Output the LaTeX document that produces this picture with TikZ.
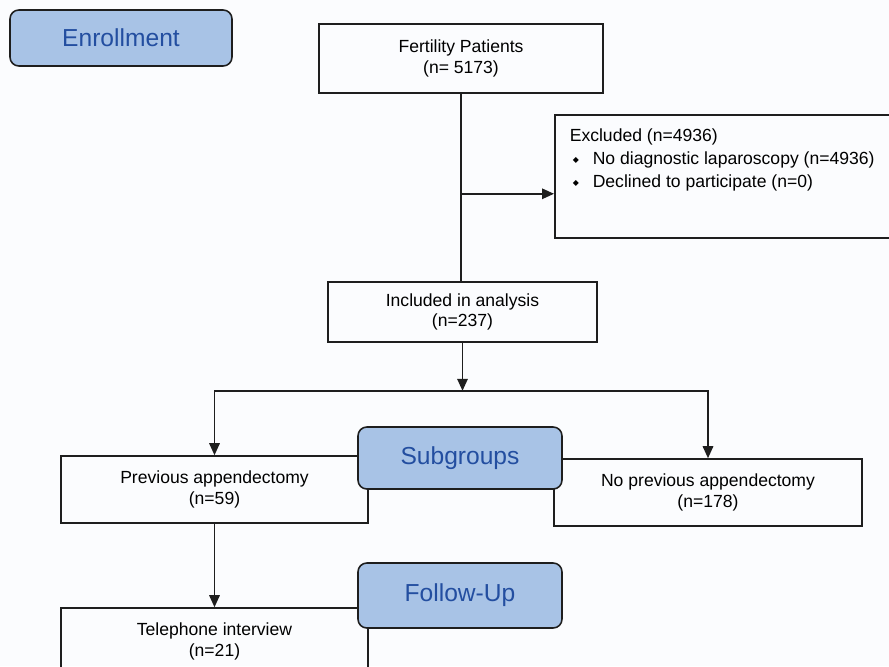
\documentclass[tikz,border=0pt]{standalone}
\usepackage{fontspec}
\setmainfont{Liberation Sans}
\newfontfamily\symfont{DejaVu Sans}
\usetikzlibrary{arrows.meta, positioning, calc}
\definecolor{stagefill}{RGB}{168, 195, 230}
\definecolor{stagetext}{RGB}{35, 78, 160}
\definecolor{flowline}{RGB}{30, 30, 30}
\definecolor{pagebg}{RGB}{251, 252, 254}
\newcommand{\exitem}[1]{\makebox[0.46cm][l]{\hspace{0.06cm}\raisebox{0.8pt}{\symfont\fontsize{4.5}{5}\selectfont ◆}}#1}
\tikzset{
  sbox/.style={
    rectangle, rounded corners=5pt,
    draw=flowline, fill=stagefill, text=stagetext,
    font=\fontsize{14}{17}\selectfont, line width=0.9pt,
    minimum width=4.08cm, minimum height=1.24cm
  },
  cbox/.style={
    rectangle, draw=flowline, align=center,
    font=\fontsize{10}{11.5}\selectfont, line width=0.9pt, inner sep=2pt
  },
  arr/.style={-{Triangle[length=2.4mm, width=2.1mm]}, line width=0.9pt, color=flowline},
  flow/.style={line width=0.9pt, color=flowline},
}

\begin{document}
\begin{tikzpicture}[x=0.02cm, y=-0.02cm]
    \useasboundingbox (0,0) rectangle (889,666);
    \clip (0,0) rectangle (889,666);
    \fill[pagebg] (0,0) rectangle (889,666);

    \node[sbox, minimum width=4.44cm, minimum height=1.12cm] (enroll) at (121,38) {Enrollment};
    \node[cbox, minimum width=5.68cm, minimum height=1.38cm] (fert) at (461,58.5) {Fertility Patients\\(n= 5173)};
    \node[cbox, anchor=north west, minimum width=7cm, minimum height=2.46cm,
          inner xsep=0.26cm, inner ysep=0.14cm] (excl) at (554,114)
      {\parbox[t][2.18cm][t]{6.4cm}{\vspace*{4pt}\fontsize{10}{13}\selectfont Excluded (n=4936)\\
        \exitem{No diagnostic laparoscopy (n=4936)}\\
        \exitem{Declined to participate (n=0)}}};
    \node[cbox, minimum width=5.38cm, minimum height=1.2cm] (incl) at (462.5,312) {Included in analysis\\(n=237)};

    \node[cbox, minimum width=6.14cm, minimum height=1.34cm] (prev)   at (214.5,489.5) {Previous appendectomy\\(n=59)};
    \node[cbox, minimum width=6.16cm, minimum height=1.34cm] (noprev) at (708,492.5)   {No previous appendectomy\\(n=178)};
    \node[cbox, minimum width=6.14cm, minimum height=1.34cm] (tel)    at (214.5,641.5) {Telephone interview\\(n=21)};

    \node[sbox] (subgr) at (460,458) {Subgroups};
    \node[sbox, minimum height=1.3cm] (follow) at (460,595.5) {Follow-Up};

    \path (fert.south) ++(0,100) coordinate (split);
    \path (incl.south) ++(0,48) coordinate (fork);

    \draw[flow] (fert.south) -- (fert.south |- incl.north);
    \draw[arr] (split) -- (split -| excl.west);
    \draw[arr] (incl.south) -- (fork);
    \draw[arr] (fork) -| (prev.north);
    \draw[arr] (fork) -| (noprev.north);
    \draw[arr] (prev.south) -- (tel.north);
\end{tikzpicture}
\end{document}
